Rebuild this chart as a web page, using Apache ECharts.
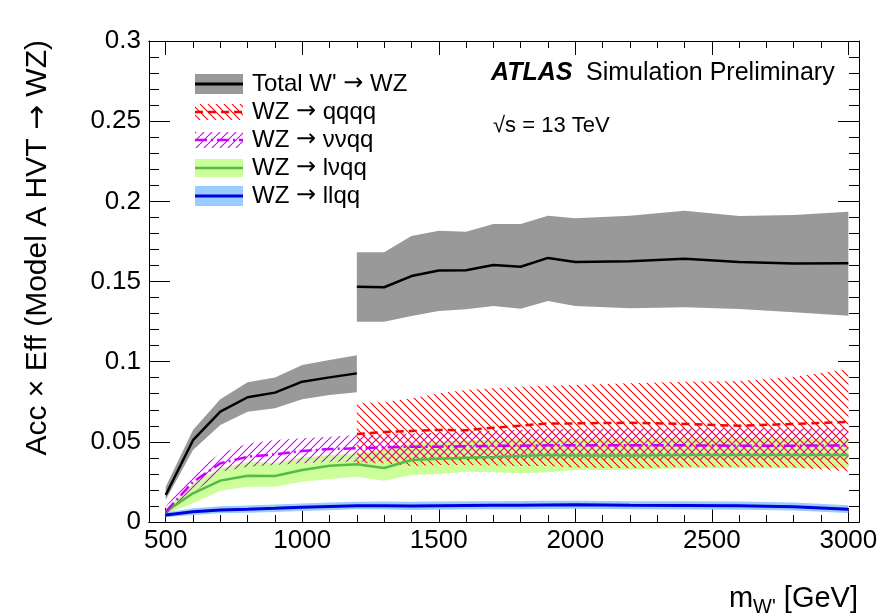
<!DOCTYPE html>
<html><head><meta charset="utf-8">
<script src="https://cdn.jsdelivr.net/npm/echarts@6/dist/echarts.min.js"></script>
<style>html,body{margin:0;padding:0;background:#fff}#c{width:881px;height:616px}</style>
</head><body><div id="c"></div>
<script>
// ---------------- data ----------------
const xMajorTicks = [500, 1000, 1500, 2000, 2500, 3000];
const xMinorTicks = [500,600,700,800,900,1000,1100,1200,1300,1400,1500,1600,1700,1800,1900,2000,2100,2200,2300,2400,2500,2600,2700,2800,2900,3000];

const massLow  = [500, 600, 700, 800, 900, 1000, 1100, 1200];
const massHigh = [1200, 1300, 1400, 1500, 1600, 1700, 1800, 1900, 2000, 2200, 2400, 2600, 2800, 3000];
const massAll  = [500, 600, 700, 800, 900, 1000, 1100, 1200, 1300, 1400, 1500, 1600, 1700, 1800, 1900, 2000, 2200, 2400, 2600, 2800, 3000];

// Total W' -> WZ (low-mass part)
const totalLow    = [0.0168, 0.051, 0.0688, 0.0778, 0.0807, 0.0875, 0.0902, 0.0927];
const totalLowUp  = [0.022, 0.0574, 0.0765, 0.0871, 0.0902, 0.0979, 0.101, 0.104];
const totalLowDn  = [0.0137, 0.0449, 0.0605, 0.0688, 0.0709, 0.0765, 0.0792, 0.0809];
// Total W' -> WZ (high-mass part)
const totalHigh   = [0.1468, 0.1464, 0.1534, 0.1568, 0.157, 0.1603, 0.1592, 0.1647, 0.1622, 0.1626, 0.1642, 0.1622, 0.1613, 0.1614];
const totalHighUp = [0.1682, 0.1682, 0.1784, 0.1817, 0.1811, 0.1859, 0.1859, 0.191, 0.1894, 0.191, 0.1942, 0.1909, 0.1915, 0.1935];
const totalHighDn = [0.1249, 0.1249, 0.1285, 0.1316, 0.1327, 0.1347, 0.133, 0.1378, 0.1347, 0.1333, 0.1339, 0.1328, 0.1308, 0.1287];

// WZ -> qqqq (high mass)
const qqqq   = [0.0549, 0.0561, 0.0568, 0.0574, 0.0572, 0.0588, 0.0601, 0.0615, 0.0615, 0.0619, 0.0612, 0.060, 0.0612, 0.0625];
const qqqqUp = [0.074, 0.0749, 0.0771, 0.0803, 0.0823, 0.0834, 0.0844, 0.085, 0.0854, 0.0865, 0.0875, 0.088, 0.0906, 0.0955];
const qqqqDn = [0.0366, 0.0366, 0.035, 0.0355, 0.0355, 0.0352, 0.035, 0.035, 0.034, 0.0335, 0.0345, 0.0345, 0.034, 0.0315];

// WZ -> vvqq
const vvqq   = [0.0064, 0.025, 0.0366, 0.0407, 0.0422, 0.0443, 0.0455, 0.046, 0.0466, 0.047, 0.047, 0.0472, 0.0475, 0.0476, 0.0478, 0.0478, 0.0478, 0.0478, 0.0476, 0.0476, 0.0478];
const vvqqUp = [0.0095, 0.0304, 0.0428, 0.049, 0.0511, 0.0522, 0.0532, 0.0543, 0.0545, 0.055, 0.056, 0.0565, 0.057, 0.0575, 0.058, 0.058, 0.0584, 0.0584, 0.0584, 0.0584, 0.0584];
const vvqqDn = [0.0044, 0.0179, 0.0314, 0.0345, 0.0355, 0.0366, 0.0376, 0.0376, 0.038, 0.0385, 0.0387, 0.0387, 0.0387, 0.0387, 0.0387, 0.0387, 0.0387, 0.0387, 0.0387, 0.0387, 0.0387];

// WZ -> lvqq
const lvqq   = [0.0064, 0.0179, 0.0258, 0.0289, 0.0287, 0.0324, 0.0351, 0.036, 0.0337, 0.0387, 0.0395, 0.0401, 0.0405, 0.0412, 0.0418, 0.0415, 0.0415, 0.0418, 0.0418, 0.0418, 0.0418];
const lvqqUp = [0.008, 0.0241, 0.0335, 0.0376, 0.037, 0.0403, 0.0418, 0.0428, 0.045, 0.049, 0.050, 0.051, 0.0515, 0.052, 0.052, 0.052, 0.052, 0.0522, 0.0522, 0.0522, 0.052];
const lvqqDn = [0.005, 0.0117, 0.0195, 0.022, 0.022, 0.0251, 0.0268, 0.0283, 0.0258, 0.0293, 0.030, 0.0314, 0.031, 0.0304, 0.031, 0.0324, 0.0325, 0.0335, 0.0335, 0.0335, 0.0335];

// WZ -> llqq
const llqq   = [0.0044, 0.0064, 0.0075, 0.0079, 0.0085, 0.0092, 0.0097, 0.0102, 0.0102, 0.01, 0.0102, 0.0103, 0.0104, 0.0105, 0.0106, 0.0107, 0.0104, 0.0103, 0.0102, 0.0095, 0.0079];
const llqqUp = [0.0060, 0.0086, 0.0098, 0.0103, 0.0109, 0.0116, 0.0122, 0.0127, 0.0128, 0.0126, 0.0128, 0.0129, 0.0130, 0.0131, 0.0132, 0.0133, 0.0130, 0.0129, 0.0128, 0.0121, 0.0104];
const llqqDn = [0.0030, 0.0044, 0.0054, 0.0057, 0.0062, 0.0069, 0.0074, 0.0079, 0.0078, 0.0075, 0.0077, 0.0078, 0.0079, 0.0080, 0.0081, 0.0082, 0.0079, 0.0078, 0.0077, 0.0071, 0.0056];

const legendLabels = ["Total W' {a|\u2192} WZ", "WZ {a|\u2192} qqqq", "WZ {a|\u2192} \u03bd\u03bdqq", "WZ {a|\u2192} l\u03bdqq", "WZ {a|\u2192} llqq"];

// ---------------- style ----------------
const FONT = "'Liberation Sans', Arial, Helvetica, sans-serif";
const AFONT = "'DejaVu Sans', sans-serif";
const X_MIN = 438.8, X_MAX = 3039;
const C_GRAY = '#999999', C_RED = '#ff0000', C_MAG = '#cc00ff', C_GREEN = '#55bb44', C_LGREEN = '#ccff99', C_BLUE = '#0000dd', C_LBLUE = '#99ccff';

function hatch(color, dir, size, lw) {
  const c = document.createElement('canvas');
  c.width = size; c.height = size;
  const g = c.getContext('2d');
  g.strokeStyle = color; g.lineWidth = lw;
  g.beginPath();
  for (let k = -1; k <= 1; k++) {
    if (dir === 'back') { g.moveTo(k * size, 0); g.lineTo(k * size + size, size); }
    else { g.moveTo(k * size, size); g.lineTo(k * size + size, 0); }
  }
  g.stroke();
  return { image: c, repeat: 'repeat' };
}
const redHatch = hatch(C_RED, 'back', 8, 1.1);
const magHatch = hatch(C_MAG, 'fwd', 8, 1.1);

const zip = (xs, ys) => xs.map((x, i) => [x, ys[i]]);

function band(xs, lo, hi, fill, z) {
  return {
    type: 'custom', silent: true, z, clip: true, animation: false,
    data: [[1000, 0.1]],
    renderItem(params, api) {
      const pts = [];
      for (let i = 0; i < xs.length; i++) pts.push(api.coord([xs[i], hi[i]]));
      for (let i = xs.length - 1; i >= 0; i--) pts.push(api.coord([xs[i], lo[i]]));
      return { type: 'polygon', shape: { points: pts }, style: { fill: fill, stroke: null } };
    }
  };
}
function line(xs, ys, color, width, type, z) {
  return { type: 'line', data: zip(xs, ys), symbol: 'none', silent: true, z, animation: false,
           lineStyle: { color, width, type, cap: 'butt' } };
}

const axisLine = { show: true, onZero: false, lineStyle: { color: '#000', width: 1 } };
const xCommon = { type: 'value', min: X_MIN, max: X_MAX, splitLine: { show: false }, axisLine };
const yCommon = { type: 'value', min: 0, max: 0.3, interval: 0.05, splitLine: { show: false }, minorSplitLine: { show: false }, axisLine,
  axisTick: { show: true, inside: true, length: 21, lineStyle: { color: '#000' } },
  minorTick: { show: true, splitNumber: 5, length: 10, lineStyle: { color: '#000' } } };

// legend
const LX = 195, LW = 48, rowY = [84, 112, 140, 168, 196];
const legendGraphics = [];
legendGraphics.push({ type: 'rect', shape: { x: LX, y: rowY[0] - 10, width: LW, height: 20 }, style: { fill: C_GRAY } });
legendGraphics.push({ type: 'line', shape: { x1: LX, y1: rowY[0], x2: LX + LW, y2: rowY[0] }, style: { stroke: '#000', lineWidth: 3 } });
legendGraphics.push({ type: 'rect', shape: { x: LX, y: rowY[1] - 8, width: LW, height: 16 }, style: { fill: redHatch } });
legendGraphics.push({ type: 'line', shape: { x1: LX, y1: rowY[1], x2: LX + LW, y2: rowY[1] }, style: { stroke: C_RED, lineWidth: 2.5, lineDash: [8, 5] } });
legendGraphics.push({ type: 'rect', shape: { x: LX, y: rowY[2] - 8, width: LW, height: 16 }, style: { fill: magHatch } });
legendGraphics.push({ type: 'line', shape: { x1: LX, y1: rowY[2], x2: LX + LW, y2: rowY[2] }, style: { stroke: C_MAG, lineWidth: 2.5, lineDash: [12, 4, 2, 4] } });
legendGraphics.push({ type: 'rect', shape: { x: LX, y: rowY[3] - 9, width: LW, height: 18 }, style: { fill: C_LGREEN } });
legendGraphics.push({ type: 'line', shape: { x1: LX, y1: rowY[3], x2: LX + LW, y2: rowY[3] }, style: { stroke: C_GREEN, lineWidth: 2.5 } });
legendGraphics.push({ type: 'rect', shape: { x: LX, y: rowY[4] - 10, width: LW, height: 20 }, style: { fill: C_LBLUE } });
legendGraphics.push({ type: 'line', shape: { x1: LX, y1: rowY[4], x2: LX + LW, y2: rowY[4] }, style: { stroke: C_BLUE, lineWidth: 3 } });
legendLabels.forEach((t, i) => legendGraphics.push({ type: 'text', x: 252, y: rowY[i],
  style: { text: t, fontSize: 24, fontFamily: FONT, fill: '#000', verticalAlign: 'middle', textAlign: 'left',
    rich: { a: { fontSize: 24, fontFamily: AFONT, fill: '#000' } } } }));

const chart = echarts.init(document.getElementById('c'), null, { renderer: 'canvas' });
chart.setOption({
  animation: false,
  backgroundColor: '#ffffff',
  grid: { left: 149, top: 41, width: 710, height: 481, containLabel: false },
  xAxis: [
    { ...xCommon, position: 'bottom',
      axisTick: { show: true, inside: true, length: 14, customValues: xMajorTicks, lineStyle: { color: '#000' } },
      axisLabel: { show: true, customValues: xMajorTicks, fontSize: 26, fontFamily: FONT, color: '#000', margin: 6,
        formatter: v => String(Math.round(v)) } },
    { ...xCommon, position: 'bottom',
      axisTick: { show: true, inside: true, length: 7, customValues: xMinorTicks, lineStyle: { color: '#000' } },
      axisLabel: { show: false } },
    { ...xCommon, position: 'top',
      axisTick: { show: true, inside: true, length: 14, customValues: xMajorTicks, lineStyle: { color: '#000' } },
      axisLabel: { show: false } },
    { ...xCommon, position: 'top',
      axisTick: { show: true, inside: true, length: 7, customValues: xMinorTicks, lineStyle: { color: '#000' } },
      axisLabel: { show: false } }
  ],
  yAxis: [
    { ...yCommon, position: 'left',
      axisLabel: { show: true, fontSize: 26, fontFamily: FONT, color: '#000', margin: 8,
        formatter: v => String(+(+v).toFixed(2)) } },
    { ...yCommon, position: 'right', axisLabel: { show: false } }
  ],
  series: [
    band(massLow, totalLowDn, totalLowUp, C_GRAY, 1),
    band(massHigh, totalHighDn, totalHighUp, C_GRAY, 1),
    band(massAll, lvqqDn, lvqqUp, C_LGREEN, 2),
    band(massAll, llqqDn, llqqUp, C_LBLUE, 2),
    band(massHigh, qqqqDn, qqqqUp, redHatch, 3),
    band(massAll, vvqqDn, vvqqUp, magHatch, 3),
    line(massAll, llqq, C_BLUE, 3, 'solid', 5),
    line(massAll, lvqq, C_GREEN, 2.5, 'solid', 5),
    line(massAll, vvqq, C_MAG, 2.5, [12, 4, 2, 4], 5),
    line(massHigh, qqqq, C_RED, 2.5, [8, 5], 5),
    line(massLow, totalLow, '#000', 2.5, 'solid', 6),
    line(massHigh, totalHigh, '#000', 2.5, 'solid', 6)
  ],
  graphic: [
    ...legendGraphics,
    { type: 'text', x: 491, y: 73, style: { text: 'ATLAS', font: 'italic bold 25px ' + FONT, fill: '#000', verticalAlign: 'middle' } },
    { type: 'text', x: 586, y: 73, style: { text: 'Simulation Preliminary', font: '25px ' + FONT, fill: '#000', verticalAlign: 'middle' } },
    { type: 'text', x: 493, y: 126, style: { text: '\u221As = 13 TeV', font: '22px ' + FONT, fill: '#000', verticalAlign: 'middle' } },
    { type: 'text', x: 38, y: 40, rotation: Math.PI / 2,
      style: { text: 'Acc \u00d7 Eff (Model A HVT {a|\u2192} WZ)', fontSize: 30, fontFamily: FONT, fill: '#000', textAlign: 'right', verticalAlign: 'middle',
        rich: { a: { fontSize: 30, fontFamily: AFONT, fill: '#000' } } } },
    { type: 'text', x: 858, y: 599,
      style: { textAlign: 'right', verticalAlign: 'middle', fill: '#000',
        rich: { m: { fontSize: 29, fontFamily: FONT }, s: { fontSize: 20, fontFamily: FONT, padding: [16, 0, 0, 0] }, g: { fontSize: 29, fontFamily: FONT } },
        text: "{m|m}{s|W'}{g| [GeV]}" } }
  ]
});
</script></body></html>
